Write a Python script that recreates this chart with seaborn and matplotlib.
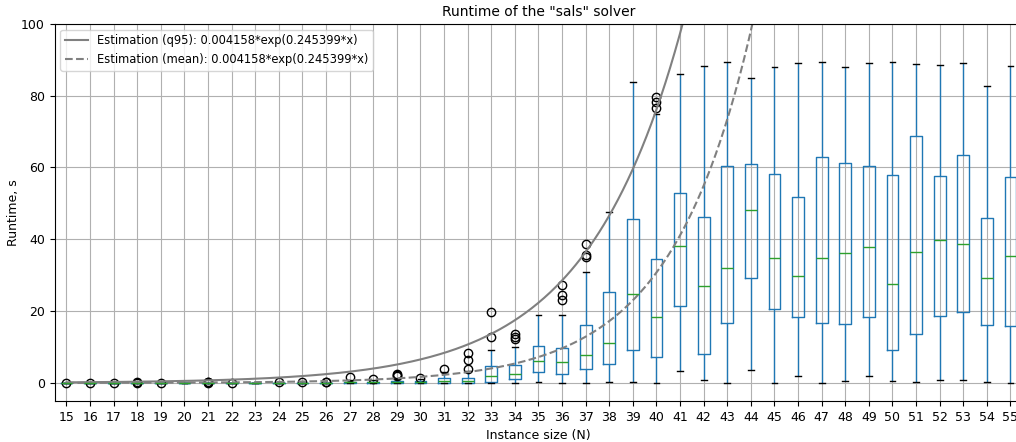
import numpy as np
import pandas as pd
import matplotlib
matplotlib.use("Agg")
import matplotlib.pyplot as plt
import seaborn as sns

# Instance sizes and per-size runtime distribution summary (seconds)
sizes = list(range(15, 56))
q1 = [0.01] * 12 + [0.05, 0.05, 0.05, 0.05,
                    0.1, 0.1, 0.4, 1.1, 3.1, 2.6, 3.9, 5.3, 9.3, 7.1,
                    21.4, 8.0, 16.8, 29.1, 20.5, 18.3, 16.8, 16.3, 18.4, 9.2,
                    13.6, 18.7, 19.7, 16.2, 15.9]
medians = [0.02] * 12 + [0.2, 0.2, 0.25, 0.2,
                         0.65, 0.55, 1.8, 2.5, 6.2, 5.8, 7.9, 11.2, 24.9, 18.4,
                         38.1, 26.9, 31.9, 48.1, 34.8, 29.9, 34.7, 36.2, 37.9, 27.5,
                         36.5, 39.7, 38.6, 29.2, 35.3]
q3 = [0.03] * 12 + [0.4, 0.4, 0.5, 0.5,
                    1.4, 1.5, 4.7, 5.1, 10.3, 9.7, 16.2, 25.3, 45.7, 34.5,
                    52.9, 46.2, 60.3, 61.0, 58.2, 51.8, 62.8, 61.3, 60.4, 57.8,
                    68.8, 57.6, 63.5, 45.9, 57.3]
whisker_low = [0.0] * 12 + [0.0, 0.0, 0.0, 0.0,
                            0.0, 0.0, 0.0, 0.0, 0.3, 0.0, 0.0, 0.3, 0.4, 0.0,
                            3.2, 0.7, 0.1, 3.7, 0.0, 1.9, 0.1, 0.5, 1.9, 0.5,
                            0.2, 0.7, 0.9, 0.3, 0.1]
whisker_high = [0.03] * 12 + [0.9, 0.8, 1.1, 1.0,
                              3.0, 3.4, 9.3, 10.1, 18.9, 18.8, 30.8, 47.7, 83.9, 75.0,
                              86.0, 88.2, 89.3, 84.8, 88.1, 89.1, 89.4, 88.1, 89.2, 89.4,
                              88.9, 88.5, 89.0, 82.8, 88.3]
outliers = [
    [0.12], [0.1], [0.1], [0.12, 0.18], [0.12], [],
    [0.1, 0.25, 0.35], [0.08], [], [0.2], [0.3], [0.15, 0.2],
    [1.7], [1.0], [1.8, 2.1, 2.4], [1.5],
    [3.8], [4.0, 6.3, 8.3], [12.8, 19.7], [12.2, 12.8, 13.6], [],
    [23.1, 24.5, 27.2], [35.1, 35.6, 38.8], [], [], [76.7, 78.3, 79.7],
    [], [], [], [], [], [], [], [], [], [], [], [], [], [], [],
]

# Fitted growth curves: runtime = a * exp(b * N)
q95_a, q95_b = 0.004158, 0.245399
mean_a, mean_b = 2.82e-4, 0.29
legend_q95 = "Estimation (q95): 0.004158*exp(0.245399*x)"
legend_mean = "Estimation (mean): 0.004158*exp(0.245399*x)"

# Expand each summary into a sample whose quartiles, whiskers and outliers
# reproduce it exactly (4k+1 points, k = number of outliers + 1)
rows = []
for n, a, m, b, lo, hi, fl in zip(sizes, q1, medians, q3, whisker_low,
                                  whisker_high, outliers):
    k = len(fl) + 1
    vals = [lo] + [a] * k + [m] * k + [b] * k + [hi] * (k - len(fl)) + list(fl)
    rows += [(str(n), v) for v in vals]
df = pd.DataFrame(rows, columns=["N", "runtime"])

blue, green = "#1f77b4", "#2ca02c"

fig = plt.figure(figsize=(10.16, 4.42), dpi=100)
ax = fig.add_axes([0.0538, 0.093, 0.9524, 0.853])

sns.boxplot(
    data=df, x="N", y="runtime", order=[str(n) for n in sizes],
    width=0.5, fill=False, color=blue, saturation=1, linewidth=1, whis=1.5,
    medianprops=dict(color=green, linewidth=1),
    whiskerprops=dict(color=blue, linewidth=1),
    capprops=dict(color="black", linewidth=1),
    flierprops=dict(marker="o", markerfacecolor="none",
                    markeredgecolor="black", markersize=6, linestyle="none"),
    ax=ax,
)

n_dense = np.linspace(sizes[0], sizes[-1], 600)
ax.plot(n_dense - sizes[0], q95_a * np.exp(q95_b * n_dense),
        color="gray", lw=1.5, label=legend_q95)
ax.plot(n_dense - sizes[0], mean_a * np.exp(mean_b * n_dense),
        color="gray", lw=1.5, ls="--", label=legend_mean)

ax.set_xlim(-0.5, len(sizes) - 0.5)
ax.set_ylim(-5, 100)
ax.set_yticks([0, 20, 40, 60, 80, 100])
ax.grid(True, color="#b0b0b0", linewidth=0.8)
ax.set_axisbelow(True)
ax.set_title('Runtime of the "sals" solver', fontsize=10)
ax.set_xlabel("Instance size (N)", fontsize=9)
ax.set_ylabel("Runtime, s", fontsize=9, labelpad=1)
ax.tick_params(labelsize=9)
ax.legend(loc="upper left", fontsize=8.3)

fig.savefig("out.png", dpi=100)
